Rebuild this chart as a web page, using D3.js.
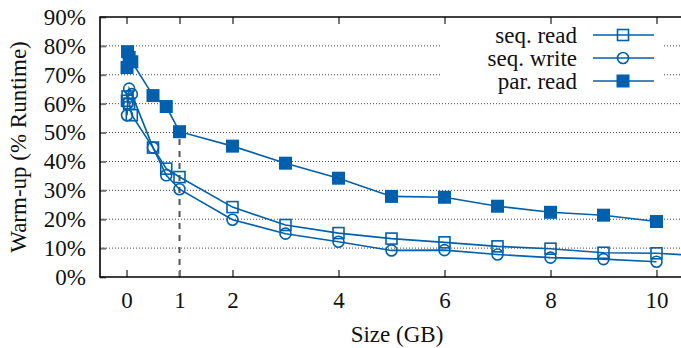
<!DOCTYPE html>
<html>
<head>
  <meta charset="utf-8">
  <script src="https://d3js.org/d3.v7.min.js"></script>
  <style>
    body { margin: 0; background: #fff; }
    text { font-family: "Liberation Serif", "Times New Roman", serif; fill: #111; }
  </style>
</head>
<body>
<div id="chartContainer"></div>
<script type="text/javascript">
  // sizes in GB (x) and warm-up share in % of runtime (y)
  var seqReadX  = [0.01, 0.02, 0.05, 0.1, 0.5, 0.75, 1, 2, 3, 4, 5, 6, 7, 8, 9, 10, 11];
  var seqReadY  = [61, 62.5, 60, 56, 44.8, 37.5, 34.6, 24.2, 18, 15.2, 13.3, 12, 10.6, 9.8, 8.4, 8.2, 7.2];
  var seqWriteX = [0.01, 0.02, 0.05, 0.1, 0.5, 0.75, 1, 2, 3, 4, 5, 6, 7, 8, 9, 10];
  var seqWriteY = [56, 60, 65.2, 63.3, 44.8, 35.2, 30.4, 19.8, 15, 12.2, 9.2, 9.3, 7.8, 6.7, 6.2, 5.3];
  var parReadX  = [0.01, 0.02, 0.05, 0.1, 0.5, 0.75, 1, 2, 3, 4, 5, 6, 7, 8, 9, 10];
  var parReadY  = [72.5, 78, 76, 74.5, 62.8, 59, 50.3, 45.3, 39.4, 34.2, 27.9, 27.6, 24.5, 22.4, 21.4, 19.2];

  var xTicks = [0, 1, 2, 4, 6, 8, 10];
  var yTicks = [0, 10, 20, 30, 40, 50, 60, 70, 80, 90];
  var seriesNames = ["seq. read", "seq. write", "par. read"];
  var markerTypes = ["square", "circle", "filled"];

  var W = 681, H = 348;
  var pLeft = 100, pTop = 17, pRight = 683, pBottom = 277;
  var blue = "#0060ad";
  var fontSize = "23px";

  var svg = d3.select("#chartContainer").append("svg")
    .attr("width", W).attr("height", H);

  var x = d3.scaleLinear().domain([-0.5, 10.5]).range([pLeft, pRight]);
  var y = d3.scaleLinear().domain([0, 90]).range([pBottom, pTop]);

  svg.append("clipPath").attr("id", "plotClip")
    .append("rect").attr("x", pLeft).attr("y", pTop)
    .attr("width", pRight - pLeft).attr("height", pBottom - pTop);

  // dotted horizontal grid
  svg.append("g").selectAll("line")
    .data(yTicks.filter(function (d) { return d > 0 && d < 90; }))
    .enter().append("line")
    .attr("x1", pLeft).attr("x2", pRight)
    .attr("y1", function (d) { return y(d); })
    .attr("y2", function (d) { return y(d); })
    .attr("stroke", "#444").attr("stroke-width", 1)
    .attr("stroke-dasharray", "1,2");

  // legend box hides the grid behind it
  svg.append("rect").attr("x", 440).attr("y", 18)
    .attr("width", 222).attr("height", 77).attr("fill", "#fff");

  // dashed marker line at 1 GB
  svg.append("line")
    .attr("x1", x(1)).attr("x2", x(1))
    .attr("y1", pBottom).attr("y2", y(parReadY[6]))
    .attr("stroke", "#555").attr("stroke-width", 2)
    .attr("stroke-dasharray", "6,6");

  // axes: y on the left, x at the bottom, ticks drawn inward
  var yAxis = d3.axisLeft(y).tickValues(yTicks)
    .tickFormat(function (d) { return d + "%"; })
    .tickSize(-6).tickPadding(14);
  var gy = svg.append("g").attr("transform", "translate(" + pLeft + ",0)").call(yAxis);

  var xAxis = d3.axisBottom(x).tickValues(xTicks).tickSize(-7).tickPadding(14);
  var gx = svg.append("g").attr("transform", "translate(0," + pBottom + ")").call(xAxis);

  var xTop = d3.axisTop(x).tickValues(xTicks).tickSize(-7).tickFormat("");
  var gxt = svg.append("g").attr("transform", "translate(0," + pTop + ")").call(xTop);

  [gy, gx, gxt].forEach(function (g) {
    g.select(".domain").remove();
    g.selectAll(".tick line").attr("stroke", "#777").attr("stroke-width", 2);
    g.selectAll(".tick text").style("font-size", fontSize)
      .style("font-family", "Liberation Serif").attr("fill", "#111");
  });
  gx.selectAll(".tick text").attr("dy", "0.75em");

  // frame
  svg.append("path")
    .attr("d", "M" + (pRight + 5) + "," + pTop + "H" + pLeft + "V" + pBottom + "H" + (pRight + 5))
    .attr("fill", "none").attr("stroke", "#000").attr("stroke-width", 1.6);

  var plot = svg.append("g").attr("clip-path", "url(#plotClip)");

  function drawMarker(g, type, cx, cy) {
    if (type === "circle") {
      g.append("circle").attr("cx", cx).attr("cy", cy).attr("r", 5.5)
        .attr("fill", "none").attr("stroke", blue).attr("stroke-width", 1.6);
    } else if (type === "square") {
      g.append("rect").attr("x", cx - 5.5).attr("y", cy - 5.5)
        .attr("width", 11).attr("height", 11)
        .attr("fill", "none").attr("stroke", blue).attr("stroke-width", 1.6);
    } else {
      g.append("rect").attr("x", cx - 6.5).attr("y", cy - 6.5)
        .attr("width", 13).attr("height", 13).attr("fill", blue);
    }
  }

  var allX = [seqReadX, seqWriteX, parReadX];
  var allY = [seqReadY, seqWriteY, parReadY];
  var line = d3.line()
    .x(function (d) { return x(d[0]); })
    .y(function (d) { return y(d[1]); });

  for (var s = 0; s < 3; s++) {
    var pts = allX[s].map(function (v, i) { return [v, allY[s][i]]; });
    plot.append("path").datum(pts).attr("d", line)
      .attr("fill", "none").attr("stroke", blue).attr("stroke-width", 1.6);
    pts.forEach(function (p) { drawMarker(plot, markerTypes[s], x(p[0]), y(p[1])); });
  }

  // legend
  var legendY = [35, 58, 81];
  for (var k = 0; k < 3; k++) {
    svg.append("text").attr("x", 577).attr("y", legendY[k]).attr("dy", "0.35em")
      .attr("text-anchor", "end").style("font-size", fontSize).text(seriesNames[k]);
    svg.append("line").attr("x1", 593).attr("x2", 654)
      .attr("y1", legendY[k]).attr("y2", legendY[k])
      .attr("stroke", blue).attr("stroke-width", 1.6);
    drawMarker(svg, markerTypes[k], 623, legendY[k]);
  }

  // axis titles
  svg.append("text").attr("x", 397).attr("y", 342)
    .attr("text-anchor", "middle").style("font-size", fontSize).text("Size (GB)");
  svg.append("text")
    .attr("transform", "translate(26," + ((pTop + pBottom) / 2) + ") rotate(-90)")
    .attr("text-anchor", "middle").style("font-size", fontSize).text("Warm-up (% Runtime)");
</script>
</body>
</html>
